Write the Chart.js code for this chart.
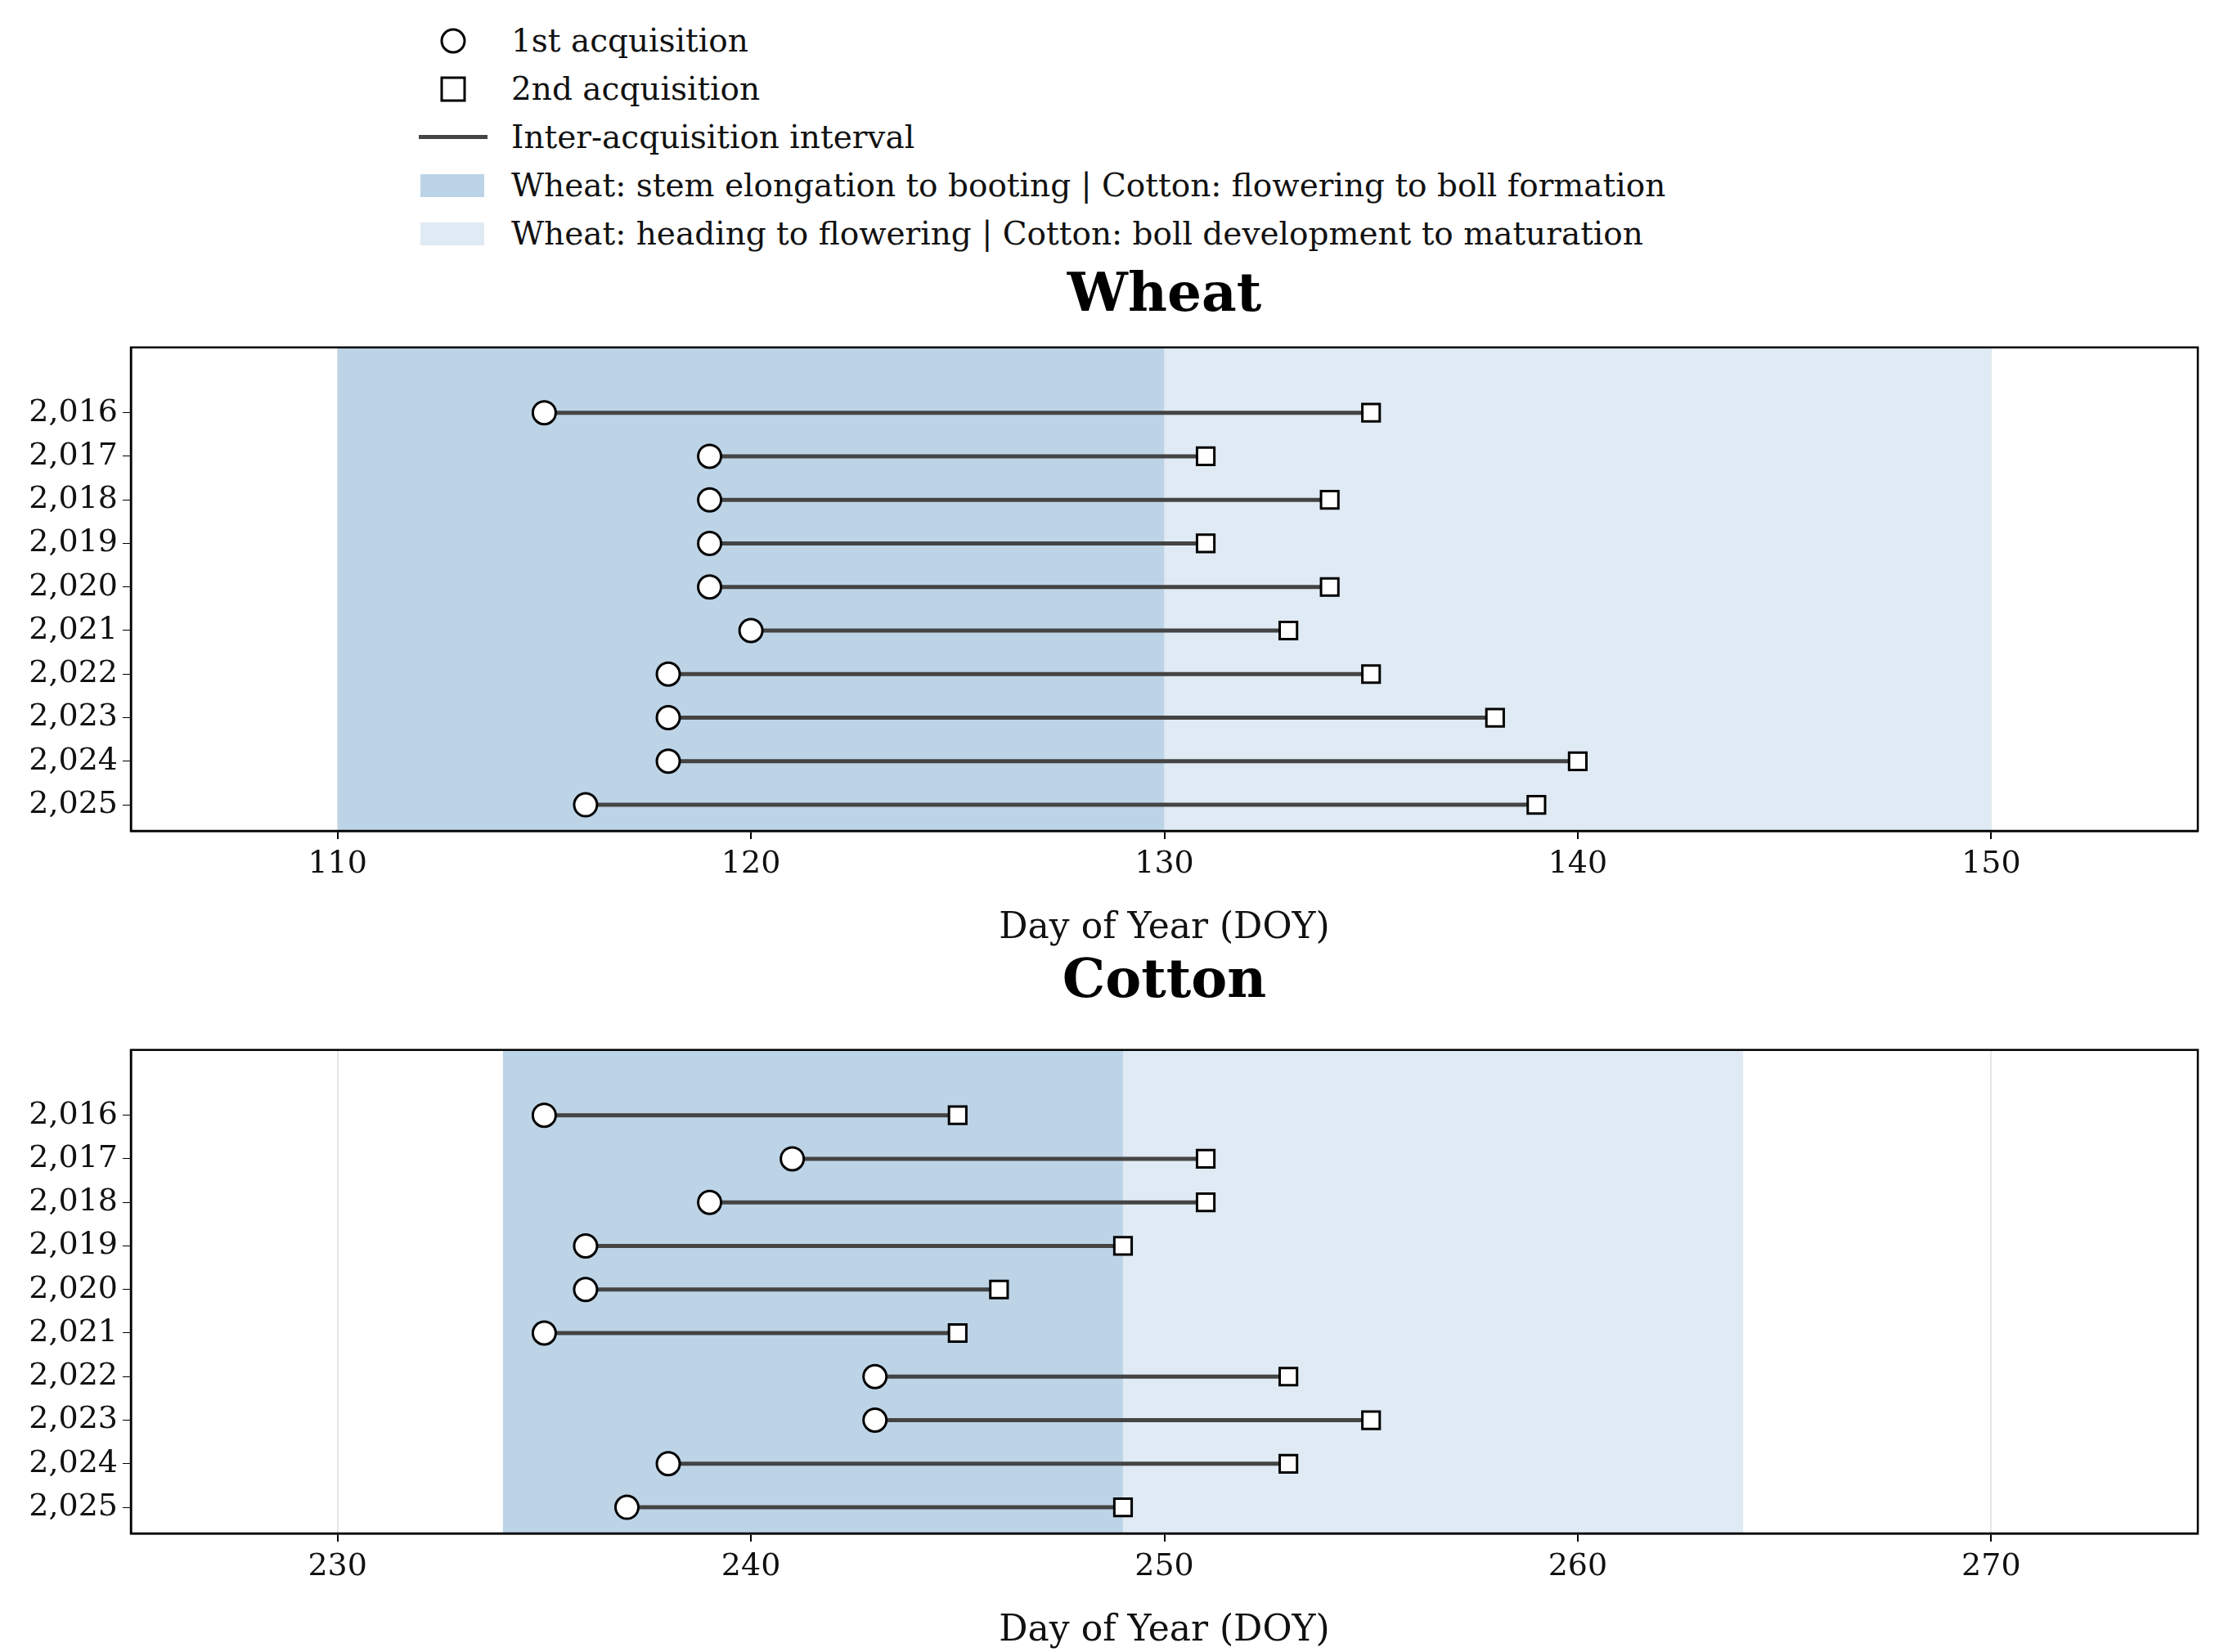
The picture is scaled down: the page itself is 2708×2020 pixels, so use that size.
<!DOCTYPE html>
<html><head><meta charset="utf-8">
<script src="https://cdn.jsdelivr.net/npm/chart.js@4"></script>
<style>
body{margin:0;background:#fff;width:2708px;height:2020px;position:relative;font-family:"DejaVu Serif",serif;overflow:hidden}
.t{position:absolute;left:160px;width:2527px;text-align:center;font-weight:bold;font-size:66px;color:#000}
.lg{position:absolute;left:500px;top:20px;font-size:39px;color:#111}
.row{position:absolute;left:0;width:1700px;height:59px;display:flex;align-items:center;white-space:nowrap}
.row span.txt{position:absolute;left:125px}
.cv{position:absolute;left:0;width:2708px}
</style></head><body>
<div class="lg">
 <div class="row" style="top:0"><svg style="position:absolute;left:36px" width="36" height="36"><circle cx="18" cy="18" r="14" fill="#fff" stroke="#000" stroke-width="3"/></svg><span class="txt">1st acquisition</span></div>
 <div class="row" style="top:59px"><svg style="position:absolute;left:36px" width="36" height="36"><rect x="4" y="4" width="28" height="28" fill="#fff" stroke="#000" stroke-width="3"/></svg><span class="txt">2nd acquisition</span></div>
 <div class="row" style="top:118px"><div style="position:absolute;left:12px;width:84px;height:5px;background:#444"></div><span class="txt">Inter-acquisition interval</span></div>
 <div class="row" style="top:177px"><div style="position:absolute;left:14px;width:78px;height:28px;background:#bdd4e7"></div><span class="txt">Wheat: stem elongation to booting | Cotton: flowering to boll formation</span></div>
 <div class="row" style="top:236px"><div style="position:absolute;left:14px;width:78px;height:28px;background:#e0eaf4"></div><span class="txt">Wheat: heading to flowering | Cotton: boll development to maturation</span></div>
</div>
<div class="t" style="top:318px">Wheat</div>
<div class="t" style="top:1157px">Cotton</div>
<div class="cv" style="top:396px;height:770px"><canvas id="wheat"></canvas></div>
<div class="cv" style="top:1255px;height:770px"><canvas id="cotton"></canvas></div>
<script>
const years = [2016, 2017, 2018, 2019, 2020, 2021, 2022, 2023, 2024, 2025];
const wheatFirst  = [115, 119, 119, 119, 119, 120, 118, 118, 118, 116];
const wheatSecond = [135, 131, 134, 131, 134, 133, 135, 138, 140, 139];
const cottonFirst  = [235, 241, 239, 236, 236, 235, 243, 243, 238, 237];
const cottonSecond = [245, 251, 251, 249, 246, 245, 253, 255, 253, 249];
const wheatBands  = [[110, 130], [130, 150]];
const cottonBands = [[234, 249], [249, 264]];
const wheatRange  = [105, 155];
const cottonRange = [225, 275];
const BAND_COLORS = ['#bdd4e7', '#e0eaf4'];

const bandsPlugin = {
    id: 'bands',
    beforeDatasetsDraw(chart, args, opts) {
        const {ctx, chartArea: a, scales: {x}} = chart;
        ctx.save();
        opts.bands.forEach((b, i) => {
            ctx.fillStyle = BAND_COLORS[i];
            const x0 = x.getPixelForValue(b[0]), x1 = x.getPixelForValue(b[1]);
            ctx.fillRect(x0, a.top, x1 - x0, a.bottom - a.top);
        });
        ctx.restore();
    },
    afterDraw(chart) {
        const {ctx, chartArea: a} = chart;
        ctx.save();
        ctx.strokeStyle = '#000'; ctx.lineWidth = 2.5;
        ctx.strokeRect(a.left, a.top, a.right - a.left, a.bottom - a.top);
        ctx.restore();
    }
};

function mkChart(id, first, second, bands, range) {
    const segs = years.map((y, i) => ({
        type: 'line', data: [{x: first[i], y}, {x: second[i], y}],
        borderColor: '#444', borderWidth: 5, pointRadius: 0, order: 3
    }));
    const circles = {type: 'scatter', data: years.map((y, i) => ({x: first[i], y})),
        pointStyle: 'circle', pointRadius: 14, backgroundColor: '#fff', borderColor: '#000', borderWidth: 3, order: 1};
    const squares = {type: 'scatter', data: years.map((y, i) => ({x: second[i], y})),
        pointStyle: 'rect', pointRadius: 15, backgroundColor: '#fff', borderColor: '#000', borderWidth: 3, order: 1};
    return new Chart(document.getElementById(id), {
        type: 'scatter',
        data: {datasets: [...segs, circles, squares]},
        plugins: [bandsPlugin],
        options: {
            responsive: true, maintainAspectRatio: false, animation: false,
            layout: {padding: {right: 21, top: 0}},
            plugins: {legend: {display: false}, tooltip: {enabled: false}, bands: {bands}},
            scales: {
                x: {type: 'linear', min: range[0], max: range[1],
                    afterBuildTicks: s => { s.ticks = [10, 20, 30, 40, 50].map(d => ({value: range[0] + d - 5})).filter(t => t.value < range[1]); },
                    ticks: {color: '#111', font: {family: 'DejaVu Serif', size: 38}, padding: 8},
                    grid: {color: '#e6e6e6', lineWidth: 2, tickColor: '#000', tickLength: 10},
                    border: {color: '#000', width: 2.5},
                    title: {display: true, text: 'Day of Year (DOY)', color: '#111', font: {family: 'DejaVu Serif', size: 44}, padding: {top: 6}},
                    afterFit: s => { s.height = 150; }},
                y: {type: 'linear', reverse: true, min: 2014.5, max: 2025.6,
                    afterBuildTicks: s => { s.ticks = years.map(v => ({value: v})); },
                    ticks: {color: '#111', font: {family: 'DejaVu Serif', size: 38}, padding: 6},
                    grid: {color: 'transparent', tickColor: '#000', tickLength: 10},
                    border: {color: '#000', width: 2.5},
                    afterFit: s => { s.width = 160; }}
            }
        }
    });
}

mkChart('wheat', wheatFirst, wheatSecond, wheatBands, wheatRange);
mkChart('cotton', cottonFirst, cottonSecond, cottonBands, cottonRange);
</script>
</body></html>
